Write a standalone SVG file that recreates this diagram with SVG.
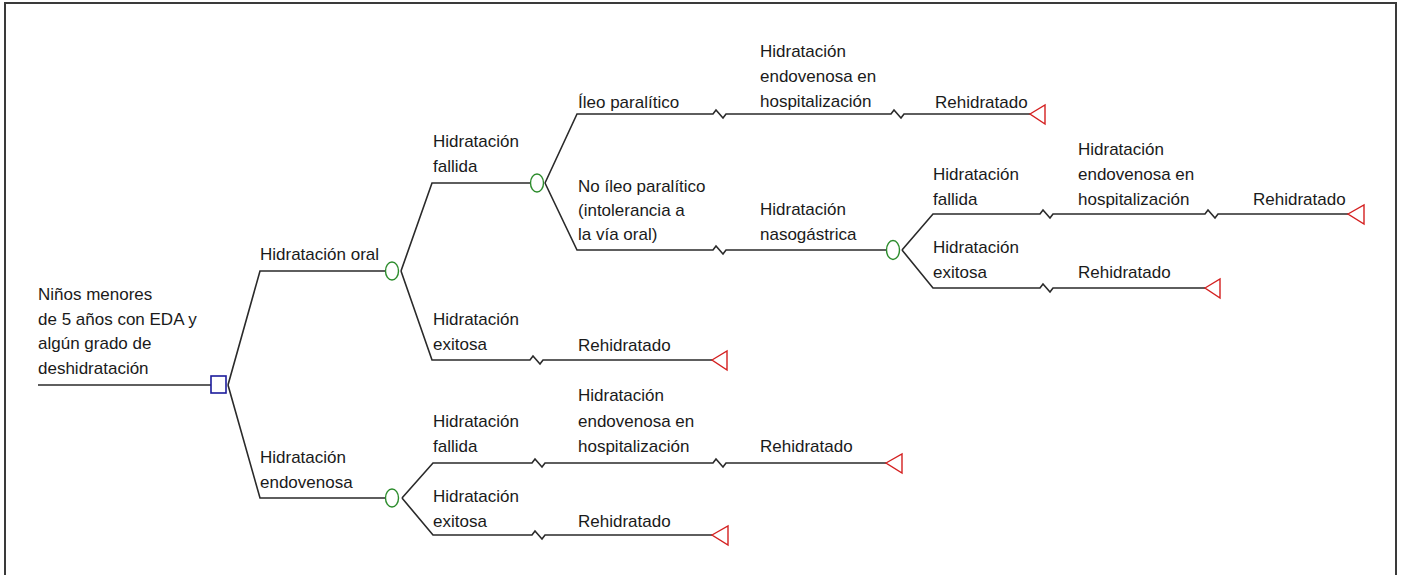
<svg xmlns="http://www.w3.org/2000/svg" width="1401" height="575" viewBox="0 0 1401 575">
<style>
.t{font-family:"Liberation Sans",Arial,sans-serif;font-size:17px;fill:#1a1a1a}
.ln{fill:none;stroke:#2a2a2a;stroke-width:1.6;stroke-linejoin:miter}
.dec{fill:none;stroke:#1c1c9c;stroke-width:1.6}
.ch{fill:none;stroke:#2c8c2c;stroke-width:1.4}
.term{fill:none;stroke:#d42020;stroke-width:1.4;stroke-linejoin:miter}
.frame{fill:none;stroke:#3a3a3a;stroke-width:2}
</style>
<rect width="1401" height="575" fill="#ffffff"/>
<path class="frame" d="M5,575 V3 H1396 V575"/>
<g id="connectors">
<path class="ln" d="M38,385 H211"/>
<path class="ln" d="M228,385 L260,271 H385"/>
<path class="ln" d="M228,385 L260,498 H385"/>
<path class="ln" d="M401,271 L432,183 H530"/>
<path class="ln" d="M401,271 L432,360 H530 L533,356 L540,364 L543,360 H712"/>
<path class="ln" d="M545,183 L577,114 H713 L716,110 L723,118 L726,114 H891 L894,110 L901,118 L904,114 H1030"/>
<path class="ln" d="M545,183 L577,250 H713 L716,246 L723,254 L726,250 H886"/>
<path class="ln" d="M902,250 L933,214 H1040 L1043,210 L1050,218 L1053,214 H1205 L1208,210 L1215,218 L1218,214 H1348"/>
<path class="ln" d="M902,250 L933,288 H1040 L1043,284 L1050,292 L1053,288 H1205"/>
<path class="ln" d="M402,498 L433,463 H532 L535,459 L542,467 L545,463 H713 L716,459 L723,467 L726,463 H886"/>
<path class="ln" d="M402,498 L433,535 H532 L535,531 L542,539 L545,535 H712"/>
</g>
<g id="root">
<rect class="dec" x="211" y="376" width="15" height="17"/>
<text class="t" x="38" y="300">Niños menores</text>
<text class="t" x="38" y="325">de 5 años con EDA y</text>
<text class="t" x="38" y="349">algún grado de</text>
<text class="t" x="38" y="374">deshidratación</text>
</g>
<g id="oral">
<ellipse class="ch" cx="392" cy="271" rx="6.5" ry="9"/>
<text class="t" x="260" y="260">Hidratación oral</text>
</g>
<g id="endovenosa">
<ellipse class="ch" cx="392" cy="498" rx="6.5" ry="9"/>
<text class="t" x="260" y="463">Hidratación</text>
<text class="t" x="260" y="488">endovenosa</text>
</g>
<g id="oral-fallida">
<ellipse class="ch" cx="537" cy="183" rx="6.5" ry="9"/>
<text class="t" x="433" y="147">Hidratación</text>
<text class="t" x="433" y="172">fallida</text>
</g>
<g id="oral-exitosa">
<text class="t" x="433" y="325">Hidratación</text>
<text class="t" x="433" y="350">exitosa</text>
<text class="t" x="578" y="351">Rehidratado</text>
<path class="term" d="M712,360 L727,351 L727,370 Z"/>
</g>
<g id="ileo">
<text class="t" x="578" y="108">Íleo paralítico</text>
<text class="t" x="760" y="57">Hidratación</text>
<text class="t" x="760" y="82">endovenosa en</text>
<text class="t" x="760" y="107">hospitalización</text>
<text class="t" x="935" y="108">Rehidratado</text>
<path class="term" d="M1030,114 L1045,105 L1045,124 Z"/>
</g>
<g id="no-ileo">
<text class="t" x="578" y="192">No íleo paralítico</text>
<text class="t" x="578" y="216">(intolerancia a</text>
<text class="t" x="578" y="240">la vía oral)</text>
<text class="t" x="760" y="215">Hidratación</text>
<text class="t" x="760" y="240">nasogástrica</text>
<ellipse class="ch" cx="893" cy="250" rx="6.5" ry="9.5"/>
</g>
<g id="naso-fallida">
<text class="t" x="933" y="180">Hidratación</text>
<text class="t" x="933" y="205">fallida</text>
<text class="t" x="1078" y="155">Hidratación</text>
<text class="t" x="1078" y="180">endovenosa en</text>
<text class="t" x="1078" y="205">hospitalización</text>
<text class="t" x="1253" y="205">Rehidratado</text>
<path class="term" d="M1348,214 L1364,205 L1364,224 Z"/>
</g>
<g id="naso-exitosa">
<text class="t" x="933" y="253">Hidratación</text>
<text class="t" x="933" y="278">exitosa</text>
<text class="t" x="1078" y="278">Rehidratado</text>
<path class="term" d="M1205,288 L1220,279 L1220,298 Z"/>
</g>
<g id="endo-fallida">
<text class="t" x="433" y="427">Hidratación</text>
<text class="t" x="433" y="452">fallida</text>
<text class="t" x="578" y="401">Hidratación</text>
<text class="t" x="578" y="427">endovenosa en</text>
<text class="t" x="578" y="452">hospitalización</text>
<text class="t" x="760" y="452">Rehidratado</text>
<path class="term" d="M886,463 L902,454 L902,473 Z"/>
</g>
<g id="endo-exitosa">
<text class="t" x="433" y="502">Hidratación</text>
<text class="t" x="433" y="527">exitosa</text>
<text class="t" x="578" y="527">Rehidratado</text>
<path class="term" d="M712,535 L728,526 L728,545 Z"/>
</g>
</svg>
